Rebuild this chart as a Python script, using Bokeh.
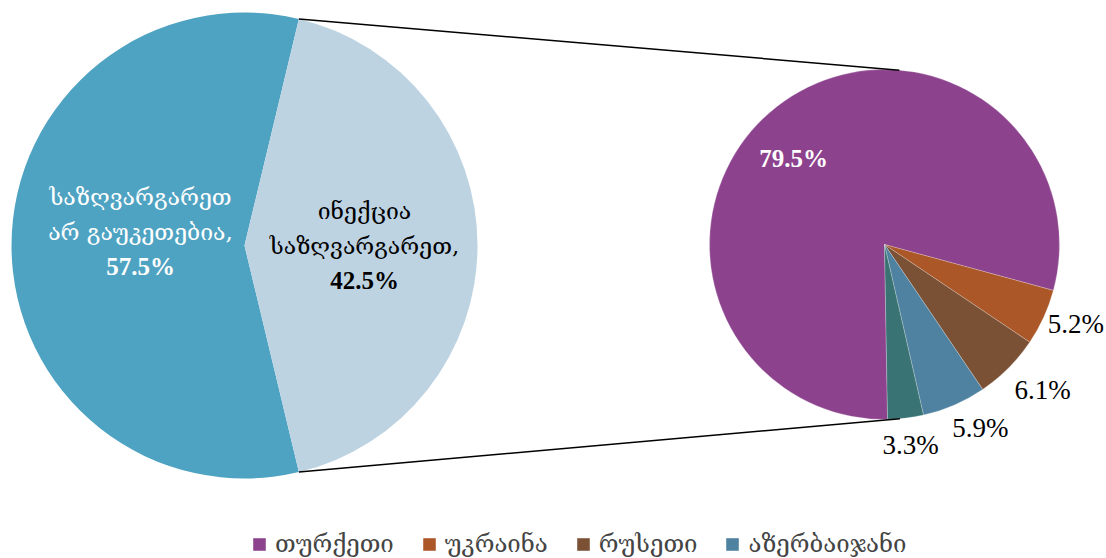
import math
from bokeh.plotting import figure
from bokeh.models import Range1d, Legend, LegendItem
from bokeh.core.properties import value
from bokeh.embed import file_html
from bokeh.resources import INLINE

# ---------------- data ----------------
main_names = ["საზღვარგარეთ არ გაუკეთებია", "ინექცია საზღვარგარეთ"]
main_label_lines = [["საზღვარგარეთ", "არ გაუკეთებია,"], ["ინექცია", "საზღვარგარეთ,"]]
main_values = [57.5, 42.5]
main_colors = ["#4FA3C2", "#BDD3E2"]
main_text_colors = ["white", "black"]

country_names = ["თურქეთი", "უკრაინა", "რუსეთი", "აზერბაიჯანი", "სხვა"]
country_values = [79.5, 5.2, 6.1, 5.9, 3.3]
country_colors = ["#8C428D", "#AB5727", "#7B5135", "#4F81A0", "#3A7374"]
legend_count = 4

# ---------------- layout ----------------
W, H = 1106, 558
GEO = "DejaVu Serif"
NUM = "Liberation Serif"

p = figure(width=W, height=H, x_range=Range1d(0, W), y_range=Range1d(0, H),
           output_backend="svg", toolbar_location=None,
           x_axis_location=None, y_axis_location=None, min_border=0)
p.grid.visible = False
p.outline_line_color = None
p.background_fill_color = "white"
p.border_fill_color = "white"


def iy(y):
    return H - y


# left pie
LCX, LCY, LR = 244, iy(245), 233
half = main_values[1] * 3.6 / 2
l_starts = [half, -half]
l_ends = [360 - half, half]
for i in range(2):
    p.wedge(x=LCX, y=LCY, radius=LR,
            start_angle=math.radians(l_starts[i]), end_angle=math.radians(l_ends[i]),
            fill_color=main_colors[i], line_color=None)

# right pie
RCX, RCY, RR = 884, iy(244), 175
start_cw = 271.0
cum = 0.0
r_mid = []
renderers = []
for i, v in enumerate(country_values):
    a0 = start_cw - 3.6 * cum
    a1 = start_cw - 3.6 * (cum + v)
    cum += v
    r = p.wedge(x=RCX, y=RCY, radius=RR,
                start_angle=math.radians(a1), end_angle=math.radians(a0),
                fill_color=country_colors[i], line_color="white", line_width=0.4, line_alpha=0.6)
    renderers.append(r)
    r_mid.append((a0 + a1) / 2)

# connector lines (left split points -> tangent points on right pie)
for sgn in (1, -1):
    ang = math.radians(sgn * half)
    px, py = LCX + LR * math.cos(ang), LCY + LR * math.sin(ang)
    dx, dy = px - RCX, py - RCY
    d = math.hypot(dx, dy)
    phi = math.atan2(dy, dx)
    alpha = math.acos(RR / d)
    t = phi - sgn * alpha
    tx, ty = RCX + RR * math.cos(t), RCY + RR * math.sin(t)
    p.line(x=[px, tx], y=[py, ty], line_color="black", line_width=1.5)

# left pie labels
l_mid = [180.0, 0.0]
l_rad = [104, 120]
l_base = [iy(231), iy(245)]
gap = 35
for i in range(2):
    cx = LCX + l_rad[i] * math.cos(math.radians(l_mid[i]))
    lines = main_label_lines[i]
    p.text(x=[cx, cx], y=[l_base[i] + gap, l_base[i]], text=lines,
           text_font=value(GEO), text_font_size="23px", text_color=main_text_colors[i],
           text_align="center", text_baseline="alphabetic")
    p.text(x=[cx], y=[l_base[i] - gap], text=[f"{main_values[i]}%"],
           text_font=value(NUM), text_font_size="25px", text_font_style="bold",
           text_color=main_text_colors[i], text_align="center", text_baseline="alphabetic")

# right pie labels (angle shift from slice middle, distance from centre)
lab_shift = [8.7, 2.1, 2.2, 4.1, 0.5]
lab_rad = [125, 207, 215, 207, 202]
for i, v in enumerate(country_values):
    if i == 0:
        col, sty, fs = "white", "bold", "25px"
    else:
        col, sty, fs = "black", "normal", "27px"
    a = math.radians(r_mid[i] + lab_shift[i])
    x = RCX + lab_rad[i] * math.cos(a)
    y = RCY + lab_rad[i] * math.sin(a)
    p.text(x=[x], y=[y], text=[f"{v}%"], text_font=value(NUM), text_font_size=fs,
           text_font_style=sty, text_color=col, text_align="center", text_baseline="middle")

# legend
items = [LegendItem(label=country_names[i], renderers=[renderers[i]]) for i in range(legend_count)]
legend = Legend(items=items, orientation="horizontal", location=(251, 0),
                label_text_font=GEO, label_text_font_size="24px",
                glyph_width=16, glyph_height=16, label_standoff=8, spacing=27,
                padding=0, margin=0, border_line_color=None, background_fill_alpha=0,
                label_height=16, label_text_baseline="middle")
p.add_layout(legend, "center")

open("out.html", "w").write(file_html(p, INLINE))
